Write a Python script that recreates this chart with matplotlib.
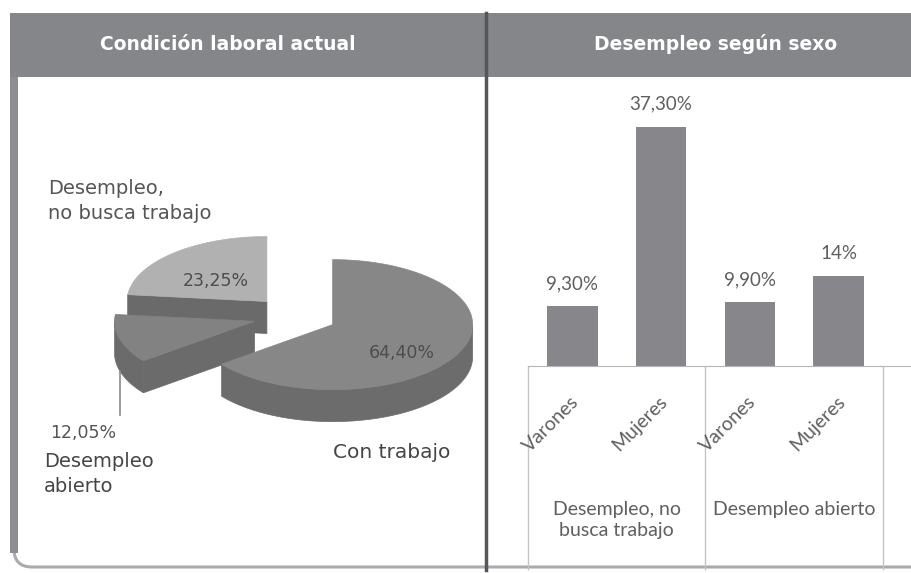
import numpy as np
from matplotlib import pyplot as plt
from matplotlib.patches import Rectangle, FancyBboxPatch, Polygon
from matplotlib.transforms import blended_transform_factory

# pie: condicion laboral actual
pie_names = ['Con trabajo', 'Desempleo abierto', 'Desempleo, no busca trabajo']
pie_values = [64.40, 12.05, 23.25]
pie_texts = ['64,40%', '12,05%', '23,25%']

# bars: desempleo segun sexo
bar_cats = ['Varones', 'Mujeres', 'Varones', 'Mujeres']
bar_values = [9.30, 37.30, 9.90, 14.0]
bar_texts = ['9,30%', '37,30%', '9,90%', '14%']
groups = ['Desempleo, no\nbusca trabajo', 'Desempleo abierto']

W, H = 911, 573
fig = plt.figure(figsize=(W / 100, H / 100), dpi=100)

# background axes in pixel units
bg = fig.add_axes([0, 0, 1, 1])
bg.set_xlim(0, W)
bg.set_ylim(H, 0)
bg.axis('off')

bg.add_patch(FancyBboxPatch((14, 30), 1000, 537, boxstyle='round,pad=0,rounding_size=18',
                            fc='white', ec='#a9aaad', lw=2.2, zorder=1))
bg.add_patch(Rectangle((10, 13), 8, 540, fc='#8d8e92', ec='none', zorder=2))
bg.add_patch(Rectangle((10, 13), W, 64, fc='#85868a', ec='none', zorder=3))
bg.plot([486, 486], [13, 570], color='#55565a', lw=2.5, zorder=4)

bg.text(228, 44, 'Condición laboral actual', color='white', fontsize=13.5,
        fontweight='bold', ha='center', va='center', zorder=5)
bg.text(716, 44, 'Desempleo según sexo', color='white', fontsize=13.5,
        fontweight='bold', ha='center', va='center', zorder=5)

# 3d pie drawn from the values
cx, cy, rx, ry, depth, explode = 295, 316, 140, 65, 32, 0.3
top_colors = ['#878787', '#828282', '#b1b1b1']
side_colors = ['#6c6c6c', '#6b6b6b', '#6a6a6a']

fracs = np.array(pie_values) / sum(pie_values)
his = 90 - 360 * np.concatenate([[0], np.cumsum(fracs)[:-1]])
los = his - 360 * fracs


def pt(ox, oy, th, r=1.0, dz=0.0):
    return ox + rx * r * np.cos(th), oy - ry * r * np.sin(th) + dz


centers = []
for i in range(len(pie_values)):
    mid = np.radians((los[i] + his[i]) / 2)
    centers.append((cx + explode * rx * np.cos(mid), cy - explode * ry * np.sin(mid)))

pie_text_color = '#555555'
for i in [2, 1, 0]:
    ox, oy = centers[i]
    lo, hi = np.radians(los[i]), np.radians(his[i])
    t = np.linspace(lo, hi, 300)
    # radial faces
    for th, visible in [(hi, np.cos(hi) < 0), (lo, np.cos(lo) > 0)]:
        if visible:
            x1, y1 = pt(ox, oy, th)
            face = [(ox, oy), (x1, y1), (x1, y1 + depth), (ox, oy + depth)]
            bg.add_patch(Polygon(face, closed=True, fc=side_colors[i], ec=side_colors[i],
                                 lw=0.5, zorder=6))
    # outer wall, front part
    front = t[np.sin(t) < 0]
    if len(front) > 1:
        xs, ys = pt(ox, oy, front)
        wall = list(zip(xs, ys)) + list(zip(xs[::-1], ys[::-1] + depth))
        bg.add_patch(Polygon(wall, closed=True, fc=side_colors[i], ec=side_colors[i],
                             lw=0.5, zorder=6))
    # top
    xs, ys = pt(ox, oy, t)
    top = [(ox, oy)] + list(zip(xs, ys))
    bg.add_patch(Polygon(top, closed=True, fc=top_colors[i], ec=top_colors[i],
                         lw=0.5, zorder=6))

# labels on the slices
for i, dz in [(0, 13), (2, 6)]:
    ox, oy = centers[i]
    mid = np.radians((los[i] + his[i]) / 2)
    lx, ly = pt(ox, oy, mid, r=0.55, dz=dz)
    bg.text(lx, ly, pie_texts[i], fontsize=12.5, color='#4d4d4d', ha='center',
            va='center', zorder=7)

# leader for the small slice
ox, oy = centers[1]
mid = np.radians((los[1] + his[1]) / 2)
lx, ly = pt(ox, oy, mid, dz=depth)
bg.plot([lx, lx], [ly, 415], color='#8a8a8a', lw=1.2, zorder=7)
bg.text(50, 433, pie_texts[1], fontsize=12.5, color=pie_text_color, ha='left',
        va='center', zorder=7)

bg.text(48, 201, 'Desempleo,\nno busca trabajo', fontsize=14, color=pie_text_color,
        ha='left', va='center', linespacing=1.35, zorder=7)
bg.text(44, 474, 'Desempleo\nabierto', fontsize=14, color='#454545',
        ha='left', va='center', linespacing=1.35, zorder=7)
bg.text(392, 452, 'Con trabajo', fontsize=14.5, color='#454545',
        ha='center', va='center', zorder=7)

# bar chart
ax = fig.add_axes([528 / W, 1 - 366 / H, (W - 528) / W, (366 - 90) / H])
ax.set_facecolor('none')
x = np.arange(len(bar_values))
ax.bar(x, bar_values, width=0.57, color='#87878b')
ax.set_xlim(-0.5, 3.5 + 28 / 88.6)
ax.set_ylim(0, 43)
for s in ['top', 'left', 'right']:
    ax.spines[s].set_visible(False)
ax.spines['bottom'].set_color('#b5b5b5')
ax.set_xticks([])
ax.set_yticks([])

bar_font = 'Lato'
txt_color = '#5f5f5f'
for xi, v, s in zip(x, bar_values, bar_texts):
    ax.annotate(s, (xi, v), xytext=(0, 16), textcoords='offset points', ha='center',
                va='center', fontsize=13.5, color=txt_color, family=bar_font)

trans = blended_transform_factory(ax.transData, ax.transAxes)
ax.vlines([-0.5, 1.5, 3.5], -0.74, 0, transform=trans, color='#c4c4c4', lw=1,
          clip_on=False)
for xi, c in zip(x, bar_cats):
    ax.text(xi + 0.04, -0.12, c, rotation=45, ha='right', va='center',
            rotation_mode='anchor', transform=trans, fontsize=14, color=txt_color,
            family=bar_font)
for gi, g in enumerate(groups):
    ax.text(2 * gi + 0.5, -0.49, g, ha='center', va='top', transform=trans,
            fontsize=14, color=txt_color, family=bar_font, linespacing=1.25)

fig.savefig('out.png', dpi=100)
